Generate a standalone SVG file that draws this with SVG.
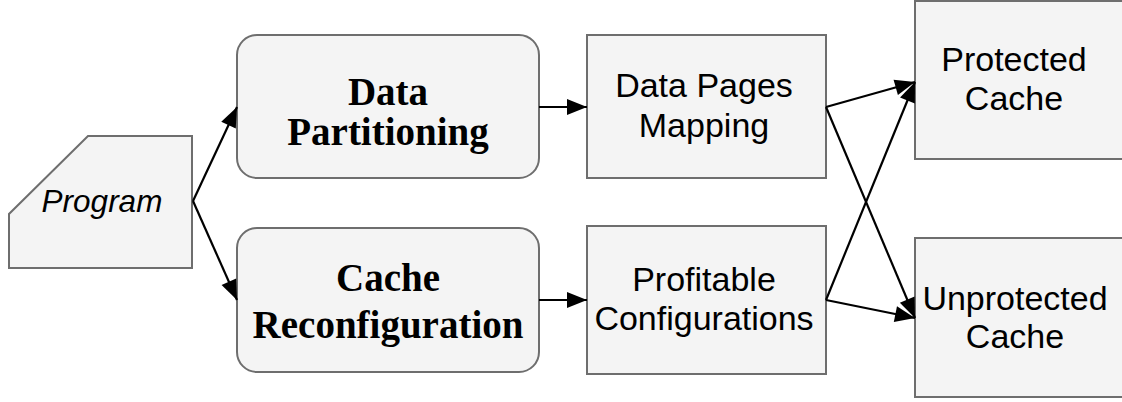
<svg xmlns="http://www.w3.org/2000/svg" width="1122" height="402" viewBox="0 0 1122 402">
<style>
.box{fill:#f4f4f4;stroke:#6e6e6e;stroke-width:2}
.sans{font-family:"Liberation Sans",Arial,sans-serif;font-size:34px;fill:#000;text-anchor:middle}
.serif{font-family:"Liberation Serif","Times New Roman",serif;font-size:39px;font-weight:bold;fill:#000;text-anchor:middle}
.ital{font-family:"Liberation Sans",Arial,sans-serif;font-size:31.5px;font-style:italic;fill:#000;text-anchor:middle}
.edge{stroke:#000;stroke-width:2.2;fill:none;marker-end:url(#ah)}
</style>
<defs>
<marker id="ah" markerUnits="userSpaceOnUse" markerWidth="22" markerHeight="18" refX="20" refY="8" orient="auto" overflow="visible">
<path d="M0,0 L20,8 L0,16 z" fill="#000"/>
</marker>
</defs>
<rect width="1122" height="402" fill="#fff"/>
<g id="program">
<polygon class="box" points="88,136 192,136 192,268 9,268 9,214"/>
<text class="ital" x="102" y="212">Program</text>
</g>
<g id="data-partitioning">
<rect class="box" x="237" y="35" width="302" height="143" rx="20"/>
<text class="serif" x="388" y="105">Data</text>
<text class="serif" x="388" y="145">Partitioning</text>
</g>
<g id="cache-reconfiguration">
<rect class="box" x="237" y="228" width="302" height="144" rx="20"/>
<text class="serif" x="388" y="291">Cache</text>
<text class="serif" x="388" y="338">Reconfiguration</text>
</g>
<g id="data-pages-mapping">
<rect class="box" x="587" y="35" width="239" height="143"/>
<text class="sans" x="704" y="97">Data Pages</text>
<text class="sans" x="704" y="137">Mapping</text>
</g>
<g id="profitable-configurations">
<rect class="box" x="587" y="226" width="239" height="148"/>
<text class="sans" x="704" y="291">Profitable</text>
<text class="sans" x="704" y="330">Configurations</text>
</g>
<g id="protected-cache">
<rect class="box" x="915" y="1" width="220" height="158"/>
<text class="sans" x="1014" y="71">Protected</text>
<text class="sans" x="1014" y="110">Cache</text>
</g>
<g id="unprotected-cache">
<rect class="box" x="915" y="238" width="220" height="159"/>
<text class="sans" x="1015" y="310">Unprotected</text>
<text class="sans" x="1015" y="348">Cache</text>
</g>
<g id="connectors">
<line class="edge" x1="193" y1="201" x2="237" y2="107"/>
<line class="edge" x1="193" y1="201" x2="237" y2="300"/>
<line class="edge" x1="539" y1="107" x2="587" y2="107"/>
<line class="edge" x1="539" y1="300" x2="587" y2="300"/>
<line class="edge" x1="826" y1="107" x2="915" y2="82"/>
<line class="edge" x1="826" y1="300" x2="915" y2="82"/>
<line class="edge" x1="826" y1="107" x2="915" y2="318"/>
<line class="edge" x1="826" y1="300" x2="915" y2="318"/>
</g>
</svg>
